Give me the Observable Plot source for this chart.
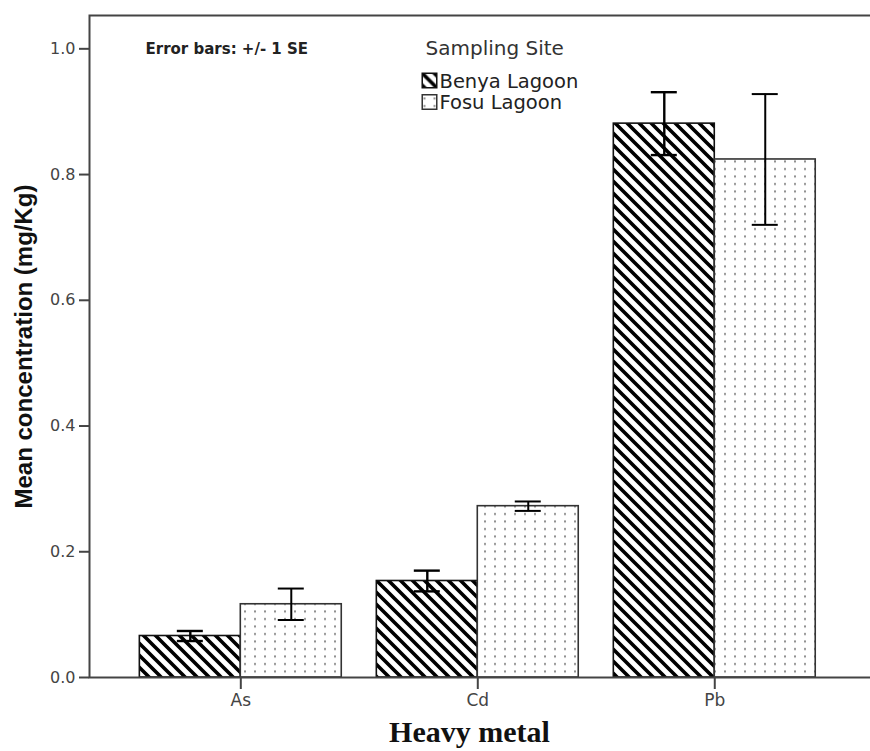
<!DOCTYPE html>
<html><head><meta charset="utf-8">
<script src="https://cdn.jsdelivr.net/npm/d3@7"></script>
<script src="https://cdn.jsdelivr.net/npm/@observablehq/plot@0.6"></script>
<style>body{margin:0;background:#fff;}</style>
</head><body><div id="chart"></div>
<script>
const metals = ["As", "Cd", "Pb"];
const sites = ["Benya Lagoon", "Fosu Lagoon"];
const benyaMean = [0.066, 0.1535, 0.881];
const benyaSE = [0.008, 0.0165, 0.050];
const fosuMean = [0.1165, 0.2725, 0.824];
const fosuSE = [0.025, 0.0075, 0.104];
const yTicks = [0, 0.2, 0.4, 0.6, 0.8, 1.0];

const W = 870, H = 751;
const mL = 89, mR = -2, mT = 15, mB = 74;
const yMax = 1.053;
const xOpts = {type: "band", domain: metals, paddingInner: 0.148, paddingOuter: 0.226, align: 0.47, round: false};
let bw;
try { bw = Plot.scale({x: {...xOpts, range: [mL, W - mR]}}).bandwidth; } catch (e) {}
if (!bw) { const step = (W - mR - mL) / (3 - 0.148 + 2 * 0.226); bw = step * (1 - 0.148); }

const benya = metals.map((m, i) => ({metal: m, mean: benyaMean[i], lo: benyaMean[i] - benyaSE[i], hi: benyaMean[i] + benyaSE[i]}));
const fosu = metals.map((m, i) => ({metal: m, mean: fosuMean[i], lo: fosuMean[i] - fosuSE[i], hi: fosuMean[i] + fosuSE[i]}));
const cap = 13;

const plot = Plot.plot({
  width: W, height: H,
  marginLeft: mL, marginRight: mR, marginTop: mT, marginBottom: mB,
  style: {fontFamily: "DejaVu Sans", color: "#444", background: "#fff"},
  x: {...xOpts, axis: null},
  y: {domain: [0, yMax], axis: null},
  marks: [
    Plot.barY(benya, {x: "metal", y: "mean", fill: "url(#hatch)", stroke: "#111", strokeWidth: 1.6, insetRight: bw / 2}),
    Plot.barY(fosu, {x: "metal", y: "mean", fill: "url(#dots)", stroke: "#333", strokeWidth: 1.6, insetLeft: bw / 2}),
    Plot.ruleX(benya, {x: "metal", y1: "lo", y2: "hi", dx: -bw / 4, stroke: "#000", strokeWidth: 2.4}),
    Plot.tickY(benya, {x: "metal", y: "hi", insetLeft: bw / 4 - cap, insetRight: 3 * bw / 4 - cap, stroke: "#000", strokeWidth: 2.4}),
    Plot.tickY(benya, {x: "metal", y: "lo", insetLeft: bw / 4 - cap, insetRight: 3 * bw / 4 - cap, stroke: "#000", strokeWidth: 2.4}),
    Plot.ruleX(fosu, {x: "metal", y1: "lo", y2: "hi", dx: bw / 4, stroke: "#000", strokeWidth: 2}),
    Plot.tickY(fosu, {x: "metal", y: "hi", insetLeft: 3 * bw / 4 - cap, insetRight: bw / 4 - cap, stroke: "#000", strokeWidth: 2}),
    Plot.tickY(fosu, {x: "metal", y: "lo", insetLeft: 3 * bw / 4 - cap, insetRight: bw / 4 - cap, stroke: "#000", strokeWidth: 2}),
    Plot.frame({stroke: "#444", strokeWidth: 2}),
    Plot.axisY(yTicks, {tickSize: 10, tickPadding: 4, tickFormat: d3.format(".1f"), fontSize: 16, strokeWidth: 2, label: null}),
    Plot.axisX(metals, {tickSize: 12, tickPadding: 4, fontSize: 17, strokeWidth: 2, label: null}),
    Plot.text(["Error bars: +/- 1 SE"], {text: d => d, frameAnchor: "top-left", textAnchor: "start", lineAnchor: "middle", dx: 56, dy: 34, fontSize: 15, fontWeight: "bold", fill: "#222"}),
    Plot.text(["Sampling Site"], {text: d => d, frameAnchor: "top-left", textAnchor: "start", lineAnchor: "middle", dx: 336, dy: 33.5, fontSize: 20, fill: "#333"}),
    Plot.dot([sites[0]], {frameAnchor: "top-left", dx: 340, dy: 65, symbol: "square", r: 8.2, fill: "url(#hatch)", stroke: "#111", strokeWidth: 1.5}),
    Plot.dot([sites[1]], {frameAnchor: "top-left", dx: 340, dy: 86.5, symbol: "square", r: 8.2, fill: "url(#dots)", stroke: "#333", strokeWidth: 1.5}),
    Plot.text([sites[0]], {text: d => d, frameAnchor: "top-left", textAnchor: "start", lineAnchor: "middle", dx: 350, dy: 66, fontSize: 19.5, fill: "#222"}),
    Plot.text([sites[1]], {text: d => d, frameAnchor: "top-left", textAnchor: "start", lineAnchor: "middle", dx: 350, dy: 87.5, fontSize: 19.5, fill: "#222"}),
    Plot.text(["Mean concentration (mg/Kg)"], {text: d => d, frameAnchor: "left", textAnchor: "middle", lineAnchor: "middle", rotate: -90, dx: -65, fontSize: 24, fontWeight: "bold", fontFamily: "Liberation Sans", fill: "#111"}),
    Plot.text(["Heavy metal"], {text: d => d, frameAnchor: "bottom", textAnchor: "middle", lineAnchor: "top", dx: -11.5, dy: 43, fontSize: 30, fontWeight: "bold", fontFamily: "Liberation Serif", fill: "#111", letterSpacing: 1.2})
  ]
});

const ns = "http://www.w3.org/2000/svg";
const defs = document.createElementNS(ns, "defs");
defs.innerHTML = `
<pattern id="hatch" patternUnits="userSpaceOnUse" width="12" height="12">
  <rect width="12" height="12" fill="#fff"/>
  <path d="M-3,-3 L15,15 M-3,9 L3,15 M9,-3 L15,3" stroke="#000" stroke-width="3.6"/>
</pattern>
<pattern id="dots" patternUnits="userSpaceOnUse" width="10" height="7.5">
  <rect width="10" height="7.5" fill="#fff"/>
  <rect x="4" y="3" width="2" height="2" fill="#8c8c8c"/>
</pattern>`;
plot.insertBefore(defs, plot.firstChild);
document.getElementById("chart").appendChild(plot);
</script>
</body></html>
